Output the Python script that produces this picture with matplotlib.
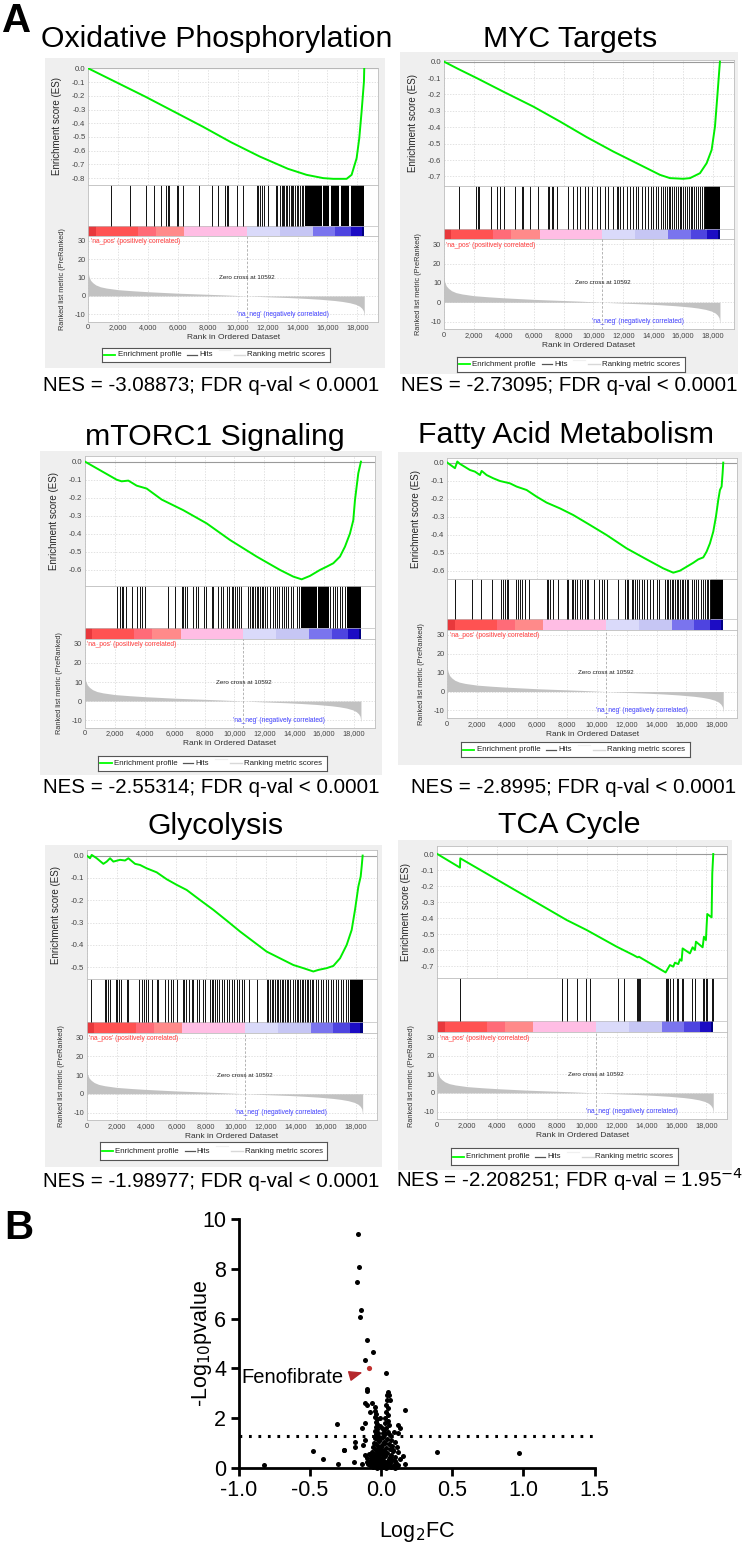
import matplotlib
matplotlib.use('Agg')
import matplotlib.pyplot as plt
from matplotlib.patches import Rectangle
from matplotlib.ticker import FuncFormatter
import numpy as np

plt.rcParams['font.family'] = ['Liberation Sans', 'DejaVu Sans']
plt.rcParams['axes.unicode_minus'] = False

W, H = 744, 1545

# ---------------------------------------------------------------- data
PANEL_TITLES = ['Oxidative Phosphorylation', 'MYC Targets', 'mTORC1 Signaling',
                'Fatty Acid Metabolism', 'Glycolysis', 'TCA Cycle']
NES_LABELS = ['NES = -3.08873; FDR q-val < 0.0001',
              'NES = -2.73095; FDR q-val < 0.0001',
              'NES = -2.55314; FDR q-val < 0.0001',
              'NES = -2.8995; FDR q-val < 0.0001',
              'NES = -1.98977; FDR q-val < 0.0001',
              'NES = -2.208251; FDR q-val = 1.95$^{-4}$']

RANK_TICKS = [0, 2000, 4000, 6000, 8000, 10000, 12000, 14000, 16000, 18000]
METRIC_TICKS = [-10, 0, 10, 20, 30]
ZERO_CROSS = 10592

RANK_X = [0, 50, 150, 300, 500, 800, 1200, 2000, 3000, 4000, 5000, 6000, 7000, 8000,
          9000, 10000, 10592, 11500, 12500, 13500, 14500, 15500, 16500, 17000, 17500,
          17900, 18150, 18300, 18400, 18460]
RANK_METRIC = [12.5, 10.5, 8.5, 7.2, 6.0, 5.0, 4.3, 3.4, 2.8, 2.3, 1.9, 1.5, 1.2, 0.9,
               0.6, 0.25, 0.0, -0.3, -0.6, -0.9, -1.3, -1.8, -2.5, -3.0, -3.7,
               -4.6, -5.6, -6.7, -8.0, -11.0]

CB_EDGES = [0, 500, 3300, 4500, 6400, 10592, 12800, 15000, 16500, 17600, 18300, 18460]
CB_COLORS = ['#e8383c', '#ff5252', '#ff6b78', '#ff8a8a', '#ffbde4', '#dadafa',
             '#c6c6f4', '#7a74ee', '#4e44e0', '#1c0cc4', '#000080']

OXPHOS_ES_RANK = [0, 3813, 7648, 9543, 11460, 13356, 14604, 15719, 16388, 17280, 17614,
                  17949, 18127, 18283, 18439, 18460]
OXPHOS_ES = [0, -0.206, -0.424, -0.538, -0.642, -0.732, -0.776, -0.800, -0.805, -0.805,
             -0.776, -0.655, -0.509, -0.315, -0.097, 0.0]
OXPHOS_HITS = [1516, 2787, 3857, 4415, 4838, 5173, 5307, 5418, 5909, 5976, 6310, 7425,
               8250, 8696, 9142, 9253, 9365, 9922, 10368, 11260, 11371, 11483, 11594,
               11750, 12040, 12531, 12642, 12820, 12932, 12999, 13110, 13222, 13311,
               13423, 13534, 13623, 13712, 13824, 13935, 14047, 14158, 14270, 14381]
OXPHOS_HIT_BLOCKS = [(14490, 15620), (15720, 16120), (16220, 16780), (16880, 17450),
                     (17550, 18460)]

MYC_ES_RANK = [0, 959, 2185, 3969, 5975, 7759, 9543, 11327, 13110, 14448, 15117, 16009,
               16455, 17124, 17570, 17904, 18127, 18283, 18417, 18460]
MYC_ES = [0, -0.045, -0.100, -0.183, -0.274, -0.365, -0.460, -0.548, -0.629, -0.690,
          -0.710, -0.714, -0.710, -0.680, -0.619, -0.538, -0.396, -0.213, -0.050, 0.0]
MYC_HITS = [981, 2140, 2252, 2363, 3122, 3523, 3746, 4013, 4749, 5195, 5262, 5753, 6310,
            6979, 7046, 7202, 7313, 7536, 8317, 8651, 8874, 9097, 9431, 9654, 9877,
            10212, 10435, 10769, 10992, 11327, 11550, 11661, 11773, 11951, 12219, 12442,
            12665, 12843, 12999, 13222, 13445, 13668, 13824, 14002, 14181, 14337, 14493,
            14650, 14780, 14900, 15020, 15150, 15260, 15400, 15520, 15640, 15760, 15880,
            16010, 16120, 16250, 16380, 16500, 16620, 16750, 16880, 17000, 17120, 17250,
            17380]
MYC_HIT_BLOCKS = [(17450, 18460)]

MTORC1_ES_RANK = [0, 2118, 2452, 2899, 3456, 4125, 5128, 6577, 8138, 9699, 11483, 13044,
                  13935, 14493, 15050, 15719, 16165, 16611, 17057, 17391, 17726, 17949,
                  18060, 18283, 18460]
MTORC1_ES = [0, -0.100, -0.109, -0.105, -0.133, -0.149, -0.210, -0.269, -0.342, -0.434,
             -0.526, -0.600, -0.637, -0.652, -0.633, -0.600, -0.582, -0.563, -0.526,
             -0.471, -0.398, -0.324, -0.213, -0.064, 0.0]
MTORC1_HITS = [2118, 2341, 2453, 2564, 2742, 3122, 3501, 3679, 3790, 4013, 5574, 6020,
               6466, 6577, 6689, 6845, 7246, 7425, 7581, 7960, 8071, 8473, 8584, 8919,
               9097, 9253, 9476, 9654, 9810, 9922, 10033, 10145, 10301, 10435, 10925,
               11037, 11148, 11260, 11371, 11483, 11594, 11706, 11817, 11928, 12040,
               12151, 12375, 12598, 12709, 12865, 12999, 13155, 13311, 13445, 13601,
               13757, 13935, 14158, 14337, 16388, 16566, 16722, 16878, 17057, 17213, 17391]
MTORC1_HIT_BLOCKS = [(14450, 15500), (15600, 16300), (17550, 18460)]

FATTY_ES_RANK = [0, 513, 669, 847, 1516, 1851, 2185, 2297, 2631, 3077, 3523, 4192, 4638,
                 5307, 5975, 6644, 7536, 8428, 9543, 10658, 11996, 13333, 14448, 15117,
                 15563, 16009, 16455, 16789, 17124, 17347, 17570, 17793, 17971, 18127,
                 18239, 18350, 18417, 18460]
FATTY_ES = [0, -0.031, 0.006, -0.007, -0.041, -0.050, -0.069, -0.046, -0.069, -0.087,
            -0.102, -0.115, -0.133, -0.152, -0.189, -0.222, -0.254, -0.291, -0.346,
            -0.402, -0.476, -0.537, -0.587, -0.611, -0.600, -0.578, -0.556, -0.537,
            -0.526, -0.494, -0.448, -0.383, -0.300, -0.207, -0.152, -0.133, -0.059, 0.0]
FATTY_HITS = [513, 1628, 2252, 2966, 3590, 3746, 3857, 3969, 4080, 4593, 4749, 4861, 4972,
              5195, 5485, 6644, 6756, 6867, 7090, 7425, 7982, 8094, 8317, 8428, 8540,
              8651, 8874, 8986, 9209, 9320, 9432, 9811, 10167, 10323, 10480, 10658,
              11438, 11884, 11996, 12107, 12330, 12442, 12553, 12709, 12843, 12999,
              13155, 13333, 13556, 13779, 14002, 14181, 14560, 14672, 14783, 14895,
              15006, 15117, 15229, 15340, 15451, 15563, 15674, 15786, 15897, 16009,
              16121, 16344, 16500, 16634, 16790, 16946, 17124, 17235, 17347, 17458, 17570]
FATTY_HIT_BLOCKS = [(17650, 18460)]

GLYCO_ES_RANK = [0, 223, 334, 669, 1115, 1338, 1561, 1784, 2230, 2564, 2787, 3233, 3567,
                 4013, 4682, 5351, 6020, 6689, 7581, 8473, 9365, 10257, 11149, 12040,
                 12932, 13824, 14493, 15162, 15497, 16054, 16500, 16946, 17392, 17726,
                 17949, 18172, 18328, 18395, 18460]
GLYCO_ES = [0, -0.012, 0.003, -0.012, -0.037, -0.027, -0.012, -0.027, -0.019, -0.022,
            -0.012, -0.037, -0.042, -0.057, -0.075, -0.106, -0.131, -0.154, -0.199,
            -0.243, -0.291, -0.340, -0.385, -0.430, -0.460, -0.490, -0.504, -0.519,
            -0.512, -0.504, -0.494, -0.460, -0.400, -0.333, -0.243, -0.139, -0.094,
            -0.049, 0.0]
GLYCO_HITS = [268, 1226, 1293, 1405, 1561, 1962, 2051, 2185, 2297, 2676, 2787, 3478, 3679,
              3835, 3969, 4125, 4348, 4682, 4794, 5240, 5463, 5641, 5797, 6020, 6422,
              6533, 6622, 6867, 7024, 7135, 7358, 7536, 7759, 7915, 8250, 8361, 8473,
              8584, 8740, 8874, 9030, 9186, 9365, 9543, 9699, 9855, 10034, 10212, 10368,
              10524, 10881, 11372, 12040, 12152, 12263, 12375, 12486, 12598, 12709,
              12821, 12932, 13044, 13155, 13267, 13378, 13490, 13601, 13780, 13936,
              14047, 14158, 14270, 14381, 14493, 14604, 14716, 14827, 14939, 15050,
              15162, 15340, 15497, 15653, 15831, 16010, 16165, 16322, 16500, 16678,
              16834, 16990, 17169, 17347, 17503]
GLYCO_HIT_BLOCKS = [(17600, 18460)]

TCA_ES_RANK = [0, 1516, 1538, 8651, 9989, 11996, 13110, 13400, 13490, 13668, 15274,
               15563, 15786, 15897, 16121, 16232, 16344, 16411, 16901, 17079, 17235,
               17302, 17748, 17837, 17971, 18016, 18060, 18350, 18395, 18460]
TCA_ES = [0, -0.085, -0.027, -0.4125, -0.475, -0.579, -0.631, -0.646, -0.642, -0.652,
          -0.740, -0.694, -0.704, -0.679, -0.688, -0.658, -0.667, -0.590, -0.621,
          -0.583, -0.600, -0.548, -0.583, -0.517, -0.538, -0.450, -0.375, -0.396,
          -0.121, 0.0]
TCA_HITS = [1516, 8361, 8651, 9320, 9944, 10212, 12107, 12486, 13334, 13400, 13490, 13557,
            15273, 15340, 15452, 15563, 15786, 16009, 16121, 16344, 16411, 17013, 17235,
            17793, 17860, 17971, 18016, 18395, 18461]
TCA_HIT_BLOCKS = []

VOLCANO_LOG2FC = [
    -0.160, -0.155, -0.169, -0.138, -0.145, -0.100, -0.059, -0.110, 0.037, -0.096, -0.096,
    0.051, 0.058, 0.063, 0.169, -0.112, -0.100, -0.065, -0.077, -0.310, -0.112, -0.136,
    0.122, 0.134, 0.090, 0.120, -0.183, -0.112, -0.124, -0.260, -0.183, 0.098, 0.110,
    0.087, 0.122, -0.112, -0.100, -0.190, -0.300, -0.136, 0.152, 0.169, 0.390, -0.475,
    -0.405, -0.258, -0.820, 0.970,
    -0.045, -0.040, -0.035, -0.042, -0.030, -0.038, -0.028, -0.034, -0.025, -0.040,
    -0.022, -0.032, -0.018, -0.045, -0.026, -0.015, -0.050, -0.035, -0.020, -0.058,
    -0.012, -0.040, -0.028, -0.065, -0.008, -0.048, -0.020, -0.072, -0.035, -0.005,
    -0.055, -0.025, -0.080, -0.042, -0.012, -0.062, -0.030, -0.090, -0.050, -0.018,
    -0.070, -0.038, -0.008, -0.058, -0.025,
    0.040, 0.045, 0.038, 0.048, 0.035, 0.052, 0.030, 0.046, 0.025, 0.058, 0.035, 0.020,
    0.050, 0.028, 0.062, 0.015, 0.040, 0.070, 0.022, 0.055, 0.010, 0.078, 0.035, 0.060,
    0.005, 0.085, 0.045, 0.020, 0.068, 0.030, 0.095, 0.008, 0.055, 0.078, 0.018, 0.040,
    0.105, 0.062, 0.002, 0.088, 0.028, 0.050, 0.115, 0.012, 0.072, 0.035, 0.095,
    -0.002, 0.005, -0.010, 0.010, -0.015, 0.000, 0.008, -0.003, 0.020, -0.020, 0.030,
    0.012, -0.008, 0.015, -0.030, 0.025, -0.045, 0.060, -0.060, 0.100, 0.120, 0.130,
    -0.085, -0.095]
VOLCANO_NLOGP = [
    9.40, 8.09, 7.46, 6.35, 6.05, 5.15, 4.67, 4.35, 3.81, 3.17, 3.08,
    3.07, 2.93, 2.73, 2.34, 2.60, 2.53, 2.60, 2.26, 1.78, 1.80, 1.59,
    1.73, 1.59, 1.45, 1.40, 1.06, 1.12, 0.92, 0.72, 0.83, 1.06, 0.86,
    0.72, 0.65, 0.52, 0.39, 0.25, 0.15, 0.15, 0.48, 0.15, 0.65, 0.67,
    0.36, 0.71, 0.13, 0.62,
    2.45, 2.30, 2.15, 2.05, 1.95, 1.85, 1.75, 1.65, 1.55, 1.50,
    1.42, 1.35, 1.28, 1.22, 1.15, 1.08, 1.02, 0.96, 0.90, 0.85,
    0.80, 0.75, 0.70, 0.66, 0.62, 0.58, 0.54, 0.50, 0.46, 0.42,
    0.38, 0.34, 0.30, 0.27, 0.24, 0.21, 0.18, 0.15, 0.12, 0.10,
    0.08, 0.06, 0.04, 0.03, 0.02,
    2.95, 2.75, 2.55, 2.40, 2.25, 2.12, 2.00, 1.90, 1.80, 1.72, 1.62, 1.52,
    1.45, 1.38, 1.32, 1.25, 1.18, 1.12, 1.05, 0.98, 0.92, 0.88, 0.82, 0.76,
    0.71, 0.67, 0.62, 0.57, 0.53, 0.48, 0.44, 0.40, 0.36, 0.32, 0.28, 0.25,
    0.22, 0.19, 0.16, 0.13, 0.11, 0.08, 0.06, 0.04, 0.03, 0.02, 0.01,
    1.20, 1.60, 2.00, 0.55, 0.35, 0.85, 0.15, 0.07, 0.70, 0.45, 1.00,
    1.40, 1.70, 0.30, 0.60, 0.20, 0.16, 0.45, 0.40, 0.30, 0.12, 0.35,
    0.55, 0.25]
FENO_LOG2FC = -0.084
FENO_NLOGP = 4.01
SIG_LINE = 1.30
VOLC_XTICKS = [-1.0, -0.5, 0.0, 0.5, 1.0, 1.5]
VOLC_YTICKS = [0, 2, 4, 6, 8, 10]

PANEL_DATA = [
    (OXPHOS_ES_RANK, OXPHOS_ES, OXPHOS_HITS, OXPHOS_HIT_BLOCKS),
    (MYC_ES_RANK, MYC_ES, MYC_HITS, MYC_HIT_BLOCKS),
    (MTORC1_ES_RANK, MTORC1_ES, MTORC1_HITS, MTORC1_HIT_BLOCKS),
    (FATTY_ES_RANK, FATTY_ES, FATTY_HITS, FATTY_HIT_BLOCKS),
    (GLYCO_ES_RANK, GLYCO_ES, GLYCO_HITS, GLYCO_HIT_BLOCKS),
    (TCA_ES_RANK, TCA_ES, TCA_HITS, TCA_HIT_BLOCKS),
]

# ---------------------------------------------------------------- layout (pixels)
LAYOUTS = [
    dict(bg=(45, 58, 385, 368), l=88.3, r=378.3, es_t=67.7, es_b=185, cb_t=225.7, cb_b=236,
         rk_b=321.7, es_ylim=(-0.85, 0.005), leg=(102, 347.7, 330, 361.5),
         title_xy=(216.5, 46.7), nes_xy=(211.5, 391)),
    dict(bg=(400, 52, 738, 374), l=444, r=734, es_t=60, es_b=186, cb_t=229, cb_b=239.3,
         rk_b=329.3, es_ylim=(-0.758, 0.01), leg=(456.7, 356.7, 685, 371.7),
         title_xy=(570, 46.7), nes_xy=(569.5, 391)),
    dict(bg=(40, 451, 382, 775), l=85, r=375, es_t=455.7, es_b=586, cb_t=628, cb_b=639,
         rk_b=727.7, es_ylim=(-0.689, 0.033), leg=(98.3, 756, 326.7, 771),
         title_xy=(215, 445), nes_xy=(211.5, 793.5)),
    dict(bg=(398, 452, 742, 765), l=447.3, r=737.3, es_t=458.3, es_b=579, cb_t=619.3,
         cb_b=630, rk_b=718, es_ylim=(-0.646, 0.024), leg=(461, 742, 690, 757),
         title_xy=(565.5, 442.7), nes_xy=(574, 793.5)),
    dict(bg=(45, 845, 382, 1167), l=86.7, r=376.7, es_t=850, es_b=979.3, cb_t=1022,
         cb_b=1032.7, rk_b=1120, es_ylim=(-0.554, 0.025), leg=(100, 1142, 327.3, 1160),
         title_xy=(216, 834), nes_xy=(211.5, 1187)),
    dict(bg=(398, 840, 732, 1170), l=437.3, r=727.3, es_t=846, es_b=977.7, cb_t=1021,
         cb_b=1032.3, rk_b=1119, es_ylim=(-0.773, 0.05), leg=(450.7, 1148.3, 678.3, 1165),
         title_xy=(569, 833), nes_xy=(569.5, 1187)),
]
XMAX = 19400

fig = plt.figure(figsize=(W / 100, H / 100), dpi=100)
fig.patch.set_facecolor('white')


def px_axes(l, t, r, b):
    ax = fig.add_axes([l / W, 1 - b / H, (r - l) / W, (b - t) / H])
    ax.set_zorder(2)
    return ax


def fx(x):
    return x / W


def fy(y):
    return 1 - y / H


GRID_KW = dict(color='#d6d6d6', linestyle=(0, (2, 2)), linewidth=0.5)
SPINE_C = '#bdbdbd'
TICK_C = '#444444'


def style_box(ax):
    for s in ax.spines.values():
        s.set_color(SPINE_C)
        s.set_linewidth(0.6)


def draw_legend(box):
    l, t, r, b = box
    ax = px_axes(l, t, r, b)
    ax.set_xlim(0, 1)
    ax.set_ylim(0, 1)
    ax.set_xticks([])
    ax.set_yticks([])
    for s in ax.spines.values():
        s.set_color('#555555')
        s.set_linewidth(0.8)
    fs = 5.7
    ax.plot([0.008, 0.058], [0.5, 0.5], color='#00ff00', lw=1.3)
    ax.text(0.068, 0.48, 'Enrichment profile', fontsize=fs, va='center', color='#222')
    ax.plot([0.372, 0.416], [0.5, 0.5], color='#555555', lw=0.9)
    ax.text(0.426, 0.48, 'Hits', fontsize=fs, va='center', color='#222')
    ax.plot([0.511, 0.562], [0.8, 0.8], color='#f0f0f0', lw=0.9)
    ax.plot([0.577, 0.628], [0.5, 0.5], color='#d8d8d8', lw=1.0)
    ax.text(0.636, 0.48, 'Ranking metric scores', fontsize=fs, va='center', color='#222')


def draw_panel(lay, data, title, nes):
    es_rank, es, hits, blocks = data
    bx0, by0, bx1, by1 = lay['bg']
    fig.patches.append(Rectangle((fx(bx0), fy(by1)), (bx1 - bx0) / W, (by1 - by0) / H,
                                 transform=fig.transFigure, facecolor='#efefef',
                                 edgecolor='none', zorder=-5))
    l, r = lay['l'], lay['r']

    # enrichment score
    ax = px_axes(l, lay['es_t'], r, lay['es_b'])
    ax.plot(es_rank, es, color='#00ee00', lw=1.4, zorder=3)
    ax.axhline(0, color='#9a9a9a', lw=0.8, zorder=2)
    ax.set_xlim(0, XMAX)
    ax.set_ylim(*lay['es_ylim'])
    n = int(-lay['es_ylim'][0] * 10 + 1e-9)
    yt = [-k / 10 for k in range(n + 1)]
    ax.set_yticks(yt)
    ax.set_yticklabels(['%.1f' % v if v != 0 else '0.0' for v in yt])
    ax.set_xticks(RANK_TICKS)
    ax.set_xticklabels([])
    ax.tick_params(length=0, labelsize=5.6, labelcolor=TICK_C, pad=2)
    ax.grid(True, **GRID_KW)
    style_box(ax)
    ax.set_ylabel('Enrichment score (ES)', fontsize=7, color='#262626')
    ax.yaxis.set_label_coords(-(26 / (r - l)), 0.5)

    # hits + colour bar
    axh = px_axes(l, lay['es_b'], r, lay['cb_b'])
    cbf = (lay['cb_b'] - lay['cb_t']) / (lay['cb_b'] - lay['es_b'])
    axh.set_xlim(0, XMAX)
    axh.set_ylim(0, 1)
    axh.bar(CB_EDGES[:-1], cbf, width=np.diff(CB_EDGES), align='edge',
            color=CB_COLORS, linewidth=0)
    axh.axhline(cbf, color=SPINE_C, lw=0.5)
    axh.vlines(hits, cbf, 1, color='black', lw=0.65)
    for a, b in blocks:
        axh.bar(a, 1 - cbf, width=b - a, bottom=cbf, align='edge', color='black',
                linewidth=0)
    axh.set_xticks([])
    axh.set_yticks([])
    style_box(axh)

    # ranked list metric
    axr = px_axes(l, lay['cb_b'], r, lay['rk_b'])
    axr.fill_between(RANK_X, RANK_METRIC, 0, color='#c2c2c2', linewidth=0, zorder=2)
    axr.axvline(ZERO_CROSS, color='#a8a8a8', lw=0.6, linestyle=(0, (3, 2)), zorder=3)
    axr.set_xlim(0, XMAX)
    axr.set_ylim(-14, 32.6)
    axr.set_yticks(METRIC_TICKS)
    axr.set_xticks(RANK_TICKS)
    axr.xaxis.set_major_formatter(FuncFormatter(lambda v, p: f'{int(v):,}'))
    axr.tick_params(length=0, labelsize=5.3, labelcolor=TICK_C, pad=2)
    axr.grid(True, **GRID_KW)
    style_box(axr)
    axr.set_xlabel('Rank in Ordered Dataset', fontsize=6, color='#333333', labelpad=2)
    axr.set_ylabel('Ranked list metric (PreRanked)', fontsize=5.3, color='#333333')
    axr.yaxis.set_label_coords(-(22 / (r - l)), 0.5)
    axr.text(150, 29.5, "'na_pos' (positively correlated)", fontsize=4.8,
             color='#ff3b3b', va='center', ha='left')
    axr.text(ZERO_CROSS, 10, 'Zero cross at ' + str(ZERO_CROSS), fontsize=4.5,
             color='#222222', va='center', ha='center')
    axr.text(13000, -10, "'na_neg' (negatively correlated)", fontsize=4.8,
             color='#4040ff', va='center', ha='center')

    draw_legend(lay['leg'])

    tx, ty = lay['title_xy']
    fig.text(fx(tx), fy(ty), title, fontsize=21.8, ha='center', va='baseline')
    nx, ny = lay['nes_xy']
    fig.text(fx(nx), fy(ny), nes, fontsize=14.8, ha='center', va='baseline')


for lay, data, title, nes in zip(LAYOUTS, PANEL_DATA, PANEL_TITLES, NES_LABELS):
    draw_panel(lay, data, title, nes)

fig.text(fx(2), fy(31.7), 'A', fontsize=29, fontweight='bold', ha='left', va='baseline')
fig.text(fx(4), fy(1239), 'B', fontsize=29, fontweight='bold', ha='left', va='baseline')

# ---------------------------------------------------------------- volcano
VL, VR, VT, VB = 238.7, 594.5, 1219, 1468
axv = px_axes(VL, VT, VR, VB)
axv.scatter(VOLCANO_LOG2FC, VOLCANO_NLOGP, s=13, color='black', linewidths=0,
            clip_on=False, zorder=3)
axv.scatter([FENO_LOG2FC], [FENO_NLOGP], s=14, color='#c0302e', linewidths=0,
            clip_on=False, zorder=4)
axv.axhline(SIG_LINE, color='black', lw=2.2, linestyle=(0, (0.9, 2.2)), zorder=2)
axv.set_xlim(-1.0, 1.5)
axv.set_ylim(0, 10)
for s in ['top', 'right']:
    axv.spines[s].set_visible(False)
for s in ['left', 'bottom']:
    axv.spines[s].set_linewidth(2.0)
axv.set_xticks(VOLC_XTICKS)
axv.set_xticklabels(['%.1f' % v for v in VOLC_XTICKS])
axv.set_yticks(VOLC_YTICKS)
axv.tick_params(direction='out', length=6, width=2.0, labelsize=15.5, pad=3)
axv.set_ylabel('-Log$_{10}$pvalue', fontsize=15.5)
axv.yaxis.set_label_coords(-(VL - 214) / (VR - VL), 0.5)
axv.set_xlabel('Log$_2$FC', fontsize=15.5, labelpad=13)
axv.text(-0.979, 3.63, 'Fenofibrate', fontsize=14.5, ha='left', va='center')
axv.annotate('', xy=(-0.13, 3.84), xytext=(-0.21, 3.71),
             arrowprops=dict(arrowstyle='-|>,head_length=0.9,head_width=0.35',
                             mutation_scale=9, color='#b5282c', lw=1.0,
                             shrinkA=0, shrinkB=0))

fig.savefig('out.png', dpi=100)
